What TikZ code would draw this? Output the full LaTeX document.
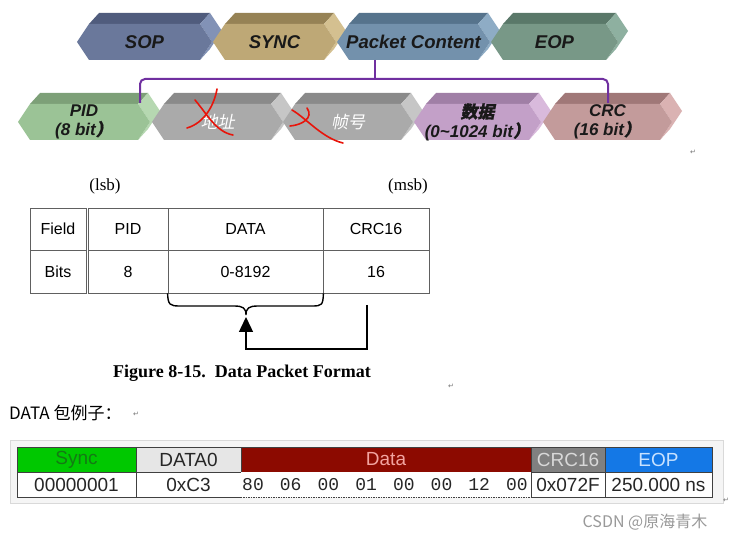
\documentclass[tikz,border=0pt]{standalone}
\usepackage{fontspec}
\setmainfont{Liberation Sans}
\newfontfamily\timesfont{Liberation Serif}
\newfontfamily\codefont{Liberation Mono}
\newfontfamily\cjk{Noto Sans CJK SC}
\newfontfamily\cjkit[FakeSlant=0.2]{Noto Sans CJK SC}
\newfontfamily\cjkbi[FakeSlant=0.2,FakeBold=1]{Noto Sans CJK SC}
\newfontfamily\markfont{DejaVu Sans}
\usetikzlibrary{arrows.meta}

\definecolor{sopFront}{HTML}{6A789B}\definecolor{sopTop}{HTML}{505C7D}\definecolor{sopSide}{HTML}{8292B6}
\definecolor{syncFront}{HTML}{BEA876}\definecolor{syncTop}{HTML}{968255}\definecolor{syncSide}{HTML}{D4C090}
\definecolor{pcFront}{HTML}{7391AC}\definecolor{pcTop}{HTML}{56738C}\definecolor{pcSide}{HTML}{8EACC5}
\definecolor{eopFront}{HTML}{789887}\definecolor{eopTop}{HTML}{5A7869}\definecolor{eopSide}{HTML}{8EB0A0}
\definecolor{pidFront}{HTML}{9BC396}\definecolor{pidTop}{HTML}{7DA078}\definecolor{pidSide}{HTML}{B6D8B1}
\definecolor{greyFront}{HTML}{AAAAAA}\definecolor{greyTop}{HTML}{8A8A8A}\definecolor{greySide}{HTML}{C6C6C6}
\definecolor{dataFront}{HTML}{C3A0C8}\definecolor{dataTop}{HTML}{A07FA6}\definecolor{dataSide}{HTML}{D9BADC}
\definecolor{crcFront}{HTML}{C39B9B}\definecolor{crcTop}{HTML}{A07878}\definecolor{crcSide}{HTML}{DAB2B2}
\definecolor{purp}{HTML}{7030A0}
\definecolor{redpen}{HTML}{E8140A}
\definecolor{tblgray}{HTML}{606060}
\definecolor{syncgreen}{HTML}{00C800}
\definecolor{synctext}{HTML}{147A14}
\definecolor{hdrgray}{HTML}{E6E6E6}
\definecolor{datared}{HTML}{8C0A00}
\definecolor{datatext}{HTML}{F2A4A0}
\definecolor{crcgray}{HTML}{808080}
\definecolor{crctext}{HTML}{D8D8D8}
\definecolor{eopblue}{HTML}{1478E6}
\definecolor{eoptext}{HTML}{C8E2FF}

% 3-D hexagon block: [label opts]{name}{left tip}{right tip}{top y}{colour}{label}
\newcommand\hexblock[7][]{%
  \fill[#6Top] ({#3+12},{#5+11}) -- ({#3+22},#5) -- ({#4-2},#5) -- ({#4-12},{#5+11}) -- cycle;
  \fill[#6Side] ({#4-12},{#5+11}) -- ({#4-2},#5) -- ({#4+10},{#5+18}) -- ({#4-2},{#5+36})
    -- ({#4-12},{#5+47}) -- (#4,{#5+29}) -- cycle;
  \fill[#6Front] (#3,{#5+29}) -- ({#3+12},{#5+11}) -- ({#4-12},{#5+11}) -- (#4,{#5+29})
    -- ({#4-12},{#5+47}) -- ({#3+12},{#5+47}) -- cycle;
  \node[#1] (#2) at ({(#3+#4)/2},{#5+29}) {#7};}

\begin{document}
\begin{tikzpicture}[x=1pt,y=-1pt,
  blk/.style={font=\fontsize{18.5}{22}\selectfont\bfseries\itshape, text=black!90, inner sep=0},
  blktwo/.style={font=\fontsize{17}{19}\selectfont\bfseries\itshape, text=black!90, align=center, inner sep=0},
  bracket/.style={draw=purp, line width=2, rounded corners=5},
  scribble/.style={draw=redpen, line width=1.6, line cap=round},
  cell/.style={draw=tblgray, line width=0.8, inner sep=0, minimum height=42.5, font=\fontsize{16}{19}\selectfont},
  hdr/.style={draw=black!75, line width=0.8, inner sep=0, minimum height=25, font=\fontsize{19}{22}\selectfont},
  val/.style={hdr, fill=white, text=black!85},
  pmark/.style={font=\markfont\fontsize{7}{8}\selectfont, text=black!55, inner sep=0}]
  \fill[white] (0,0) rectangle (729,540);
  \useasboundingbox (0,0) rectangle (729,540);

  % top row of the packet
  \hexblock[blk]{sop}{77}{212}{13}{sop}{SOP}
  \hexblock[blk]{sync}{213}{336}{13}{sync}{SYNC}
  \hexblock[blk]{pc}{337}{490}{13}{pc}{Packet Content}
  \hexblock[blk]{eop}{491}{618}{13}{eop}{EOP}

  % packet content fields
  \hexblock[blktwo]{pid}{18}{150}{93}{pid}{PID\\(8 bit{\cjkbi ）}}
  \hexblock[blktwo, text=white, font=\cjkit\fontsize{17}{19}\selectfont]{addr}{152}{283}{93}{grey}{地址}
  \hexblock[blktwo, text=white, font=\cjkit\fontsize{17}{19}\selectfont]{frame}{283}{413}{93}{grey}{帧号}
  \hexblock[blktwo]{data}{414}{541}{93}{data}{{\cjkbi 数据}\\(0\textasciitilde1024 bit{\cjkbi ）}}
  \hexblock[blktwo]{crc}{543}{672}{93}{crc}{CRC\\(16 bit{\cjkbi ）}}

  \coordinate (stem) at (375,60);
  \coordinate (pidtop) at (140,103);
  \coordinate (crctop) at (608,103);
  \draw[bracket] (stem) -- (375,79);
  \draw[bracket] (pidtop) -- (140,79) -- (608,79) -- (crctop);

  % crossed out by hand
  \draw[scribble] (217,89) .. controls (214,106) and (204,123) .. (187,128);
  \draw[scribble] (195,100) .. controls (207,114) and (216,132) .. (233,135);
  \draw[scribble] (292,110) .. controls (306,118) and (322,138) .. (343,143);
  \draw[scribble] (290,126) .. controls (302,125) and (314,118) .. (307,108);

  % field table
  \node[font=\timesfont\fontsize{17}{20}\selectfont] (lsb) at (105,186) {(lsb)};
  \node[font=\timesfont\fontsize{17}{20}\selectfont] (msb) at (408,186) {(msb)};
  \node[cell, minimum width=56] (field) at (58,229.25) {Field};
  \node[cell, minimum width=56] (bits) at (58,271.75) {Bits};
  \node[cell, minimum width=80] (pidf) at (128,229.25) {PID};
  \node[cell, minimum width=80] (pidb) at (128,271.75) {8};
  \node[cell, minimum width=155] (dataf) at (245.5,229.25) {DATA};
  \node[cell, minimum width=155] (dbits) at (245.5,271.75) {0-8192};
  \node[cell, minimum width=106] (crcf) at (376,229.25) {CRC16};
  \node[cell, minimum width=106] (crcb) at (376,271.75) {16};

  \draw[line width=1.4] (dbits.south west) .. controls (168,305) and (170,306) .. (180,306) -- (234,306)
    .. controls (243,306) and (246,308) .. (246,315) .. controls (246,308) and (249,306) .. (258,306)
    -- (312,306) .. controls (322,306) and (323,305) .. (dbits.south east);
  \coordinate (crcend) at (367,305);
  \coordinate (bracetip) at (246,317);
  \draw[line width=1.4, -{Triangle[length=15pt,width=14pt]}] (crcend) -- ++(0,44) -| (bracetip);

  \node[font=\timesfont\fontsize{18}{21}\selectfont\bfseries] (caption) at (242,373) {Figure 8-15.\ \ Data Packet Format};
  \node[pmark] (pm1) at (693,152) {↵};
  \node[pmark] (pm2) at (451,386) {↵};

  % example capture
  \node[anchor=west, inner sep=0, font=\cjk\fontsize{17}{20}\selectfont] (example) at (9,413) {DATA 包例子：};
  \node[pmark] (pm3) at (136,414) {↵};
  \fill[black!4, draw=black!15] (10,440) rectangle (723,503);

  \node[hdr, fill=syncgreen, text=synctext, minimum width=119] (synch) at (76.5,459.5) {Sync};
  \node[hdr, fill=hdrgray, text=black!85, minimum width=105] (data0h) at (188.5,459.5) {DATA0};
  \node[hdr, fill=datared, text=datatext, minimum width=290] (datah) at (386,459.5) {Data};
  \node[hdr, fill=crcgray, text=crctext, minimum width=74] (crch) at (568,459.5) {CRC16};
  \node[hdr, fill=eopblue, text=eoptext, minimum width=107] (eoph) at (658.5,459.5) {EOP};

  \node[val, minimum width=119] (syncv) at (76.5,484.5) {00000001};
  \node[val, minimum width=105] (data0v) at (188.5,484.5) {0xC3};
  \node[val, draw=none, minimum width=290] (datav) at (386,484.5) {};
  \node[val, minimum width=74] (crcv) at (568,484.5) {0x072F};
  \node[val, minimum width=107] (eopv) at (658.5,484.5) {250.000 ns};
  \draw[black!75, line width=0.8, dash pattern=on 1.5pt off 1pt] (datav.south west) -- (datav.south east);
  \foreach \v [count=\i] in {80,06,00,01,00,00,12,00}
    \node[font=\codefont\fontsize{18}{21}\selectfont, text=black!85, inner sep=0] (byte\i) at ({253+37.7*(\i-1)},484.5) {\v};

  \node[pmark] (pm4) at (726,500) {↵};
  \node[font=\cjk\fontsize{16}{19}\selectfont, text=black!40, inner sep=0] (mark) at (645,522) {CSDN @原海青木};
\end{tikzpicture}
\end{document}
